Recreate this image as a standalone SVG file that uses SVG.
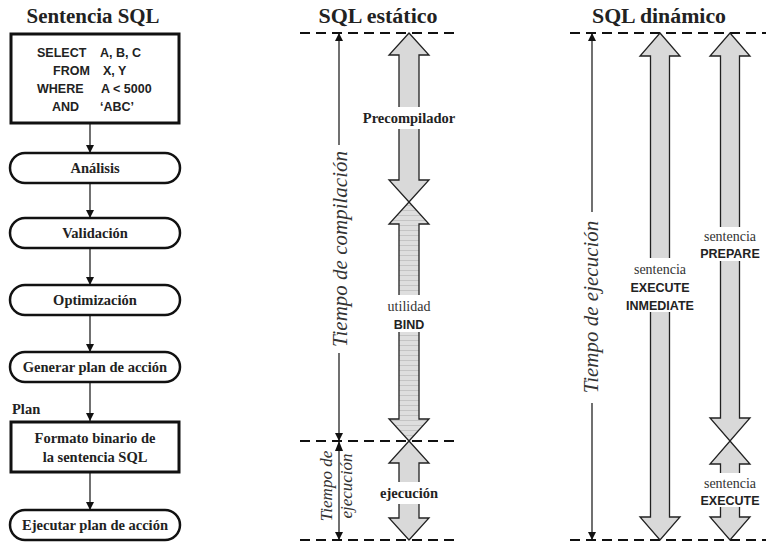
<svg xmlns="http://www.w3.org/2000/svg" width="766" height="542" viewBox="0 0 766 542">
<defs>
<style>
.title{font-family:"Liberation Serif",serif;font-weight:bold;font-size:20px;fill:#222;text-anchor:middle}
.lbl{font-family:"Liberation Serif",serif;font-weight:bold;font-size:14.5px;fill:#222;text-anchor:middle}
.sql{font-family:"Liberation Sans",sans-serif;font-weight:bold;font-size:12.5px;fill:#222}
.sans{font-family:"Liberation Sans",sans-serif;font-weight:bold;font-size:12.5px;fill:#222;text-anchor:middle}
.ser{font-family:"Liberation Serif",serif;font-size:14px;fill:#333;text-anchor:middle}
.ital{font-family:"Liberation Serif",serif;font-style:italic;font-size:21px;fill:#333;text-anchor:middle}
.itals{font-family:"Liberation Serif",serif;font-style:italic;font-size:17px;fill:#333;text-anchor:middle}
.box{fill:#fff;stroke:#111;stroke-width:3}
.pill{fill:#fff;stroke:#111;stroke-width:2.5}
.conn{stroke:#111;stroke-width:1.2;fill:none}
.dash{stroke:#111;stroke-width:2;stroke-dasharray:10 6;fill:none}
.big{fill:#d9d9d9;stroke:#222;stroke-width:1.3}
.bind{fill:url(#stripes);stroke:#222;stroke-width:1.3}
.bg{fill:#fff}
</style>
<pattern id="stripes" width="6" height="5" patternUnits="userSpaceOnUse">
<rect width="6" height="5" fill="#dedede"/>
<line x1="0" y1="0.5" x2="6" y2="0.5" stroke="#c4c4c4" stroke-width="1"/>
</pattern>
<marker id="ah" markerWidth="8" markerHeight="10" refX="8" refY="5" orient="auto" markerUnits="userSpaceOnUse">
<path d="M0,1 L8,5 L0,9 Z" fill="#111"/>
</marker>
</defs>

<!-- Titles -->
<text class="title" x="93" y="23" textLength="133" lengthAdjust="spacingAndGlyphs">Sentencia SQL</text>
<text class="title" x="378" y="23" textLength="119" lengthAdjust="spacingAndGlyphs">SQL  estático</text>
<text class="title" x="659" y="23" textLength="134" lengthAdjust="spacingAndGlyphs">SQL  dinámico</text>

<!-- Left flow nodes -->
<g id="sql-box">
<rect class="box" x="11" y="34" width="168" height="89"/>
<text class="sql" x="37" y="57">SELECT</text><text class="sql" x="100" y="57">A, B, C</text>
<text class="sql" x="53" y="75">FROM</text><text class="sql" x="103" y="75">X, Y</text>
<text class="sql" x="37" y="93">WHERE</text><text class="sql" x="101" y="93">A &lt; 5000</text>
<text class="sql" x="52" y="111">AND</text><text class="sql" x="100" y="111">‘ABC’</text>
</g>
<g id="analisis"><rect class="pill" x="10" y="153" width="170" height="30" rx="15"/><text class="lbl" x="95" y="173">Análisis</text></g>
<g id="validacion"><rect class="pill" x="10" y="218" width="170" height="30" rx="15"/><text class="lbl" x="95" y="238">Validación</text></g>
<g id="optimizacion"><rect class="pill" x="10" y="285" width="170" height="30" rx="15"/><text class="lbl" x="95" y="305">Optimización</text></g>
<g id="generar"><rect class="pill" x="10" y="352" width="170" height="30" rx="15"/><text class="lbl" x="95" y="372">Generar plan de acción</text></g>
<g id="plan-label"><text class="lbl" x="12" y="414" style="text-anchor:start">Plan</text></g>
<g id="formato"><rect class="box" x="11" y="422" width="168" height="50"/><text class="lbl" x="95" y="443">Formato binario de</text><text class="lbl" x="95" y="462">la sentencia SQL</text></g>
<g id="ejecutar"><rect class="pill" x="10" y="510" width="170" height="30" rx="15"/><text class="lbl" x="95" y="530">Ejecutar plan de acción</text></g>

<g id="connectors">
<line class="conn" x1="90" y1="124" x2="90" y2="153" marker-end="url(#ah)"/>
<line class="conn" x1="90" y1="183" x2="90" y2="218" marker-end="url(#ah)"/>
<line class="conn" x1="90" y1="248" x2="90" y2="285" marker-end="url(#ah)"/>
<line class="conn" x1="90" y1="315" x2="90" y2="352" marker-end="url(#ah)"/>
<line class="conn" x1="90" y1="382" x2="90" y2="421" marker-end="url(#ah)"/>
<line class="conn" x1="90" y1="472" x2="90" y2="510" marker-end="url(#ah)"/>
</g>

<!-- Middle: SQL estatico -->
<g id="static">
<line class="dash" x1="300" y1="33" x2="460" y2="33"/>
<line class="dash" x1="300" y1="441" x2="460" y2="441"/>
<line class="dash" x1="300" y1="540" x2="460" y2="540"/>
<line class="conn" x1="339" y1="145" x2="339" y2="33" marker-end="url(#ah)"/>
<line class="conn" x1="339" y1="353" x2="339" y2="441" marker-end="url(#ah)"/>
<line class="conn" x1="339" y1="441" x2="339" y2="540" marker-end="url(#ah)"/>
<path d="M335,451 L339,441 L343,451 Z" fill="#111"/>
<text class="ital" transform="translate(347,249) rotate(-90)">Tiempo de compilación</text>
<text class="itals" transform="translate(332,486) rotate(-90)">Tiempo de</text>
<text class="itals" transform="translate(352,486) rotate(-90)">ejecución</text>
<path class="big" d="M409,33 L429,55 L419,55 L419,180 L429,180 L409,202 L389,180 L399,180 L399,55 L389,55 Z"/>
<path class="bind" d="M409,202 L429,224 L419,224 L419,419 L429,419 L409,441 L389,419 L399,419 L399,224 L389,224 Z"/>
<path class="big" d="M409,441 L429,463 L419,463 L419,518 L429,518 L409,540 L389,518 L399,518 L399,463 L389,463 Z"/>
<rect class="bg" x="358" y="107" width="102" height="22"/>
<text class="lbl" x="409" y="123">Precompilador</text>
<rect class="bg" x="378" y="295" width="62" height="37"/>
<text class="ser" x="409" y="311">utilidad</text>
<text class="sans" x="409" y="329">BIND</text>
<rect class="bg" x="377" y="482" width="64" height="22"/>
<text class="lbl" x="409" y="498">ejecución</text>
</g>

<!-- Right: SQL dinamico -->
<g id="dynamic">
<line class="dash" x1="570" y1="33" x2="766" y2="33"/>
<line class="dash" x1="570" y1="540" x2="766" y2="540"/>
<line class="conn" x1="592" y1="212" x2="592" y2="33" marker-end="url(#ah)"/>
<line class="conn" x1="592" y1="403" x2="592" y2="540" marker-end="url(#ah)"/>
<text class="ital" transform="translate(598,307) rotate(-90)">Tiempo de ejecución</text>
<path class="big" d="M660,33 L680,56 L669.5,56 L669.5,517 L680,517 L660,540 L640,517 L650.5,517 L650.5,56 L640,56 Z"/>
<path class="big" d="M730,33 L750,56 L739.5,56 L739.5,418 L750,418 L730,441 L710,418 L720.5,418 L720.5,56 L710,56 Z"/>
<path class="big" d="M730,441 L750,464 L739.5,464 L739.5,517 L750,517 L730,540 L710,517 L720.5,517 L720.5,464 L710,464 Z"/>
<rect class="bg" x="626" y="258" width="68" height="54"/>
<text class="ser" x="660" y="274">sentencia</text>
<text class="sans" x="660" y="292">EXECUTE</text>
<text class="sans" x="660" y="310">INMEDIATE</text>
<rect class="bg" x="701" y="227" width="58" height="34"/>
<text class="ser" x="730" y="241">sentencia</text>
<text class="sans" x="730" y="258">PREPARE</text>
<rect class="bg" x="701" y="473" width="58" height="34"/>
<text class="ser" x="730" y="488">sentencia</text>
<text class="sans" x="730" y="505">EXECUTE</text>
</g>
</svg>
